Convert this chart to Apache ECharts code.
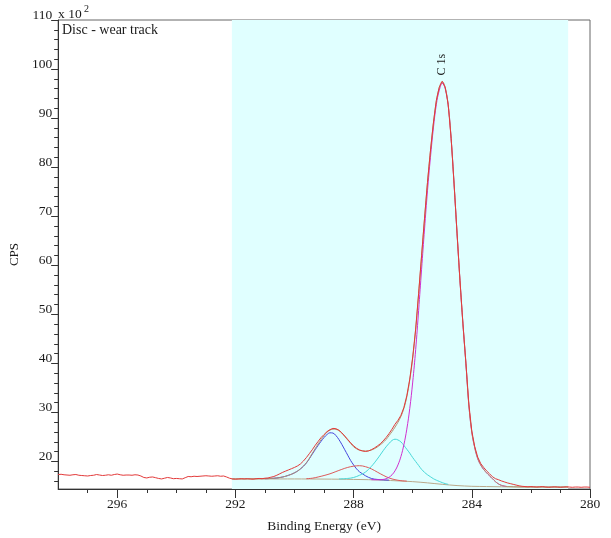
<!DOCTYPE html>
<html>
<head>
<meta charset="utf-8">
<script src="https://cdn.jsdelivr.net/npm/echarts@6/dist/echarts.min.js"></script>
<style>
  html, body { margin: 0; padding: 0; background: #ffffff; }
  #chart { width: 611px; height: 538px; }
</style>
</head>
<body>
<div id="chart"></div>
<script>
// C 1s region, disc wear track. Intensities in CPS x 10^2.
const FONT = '"Liberation Serif", "Times New Roman", serif';

// Axis ticks
const energyTicks = [280, 284, 288, 292, 296];
const energyMinorTicks = [281, 282, 283, 285, 286, 287, 289, 290, 291, 293, 294, 295, 297];
const cpsTicks = [20, 30, 40, 50, 60, 70, 80, 90, 100, 110];
const cpsMinorTicks = [16, 18, 22, 24, 26, 28, 32, 34, 36, 38, 42, 44, 46, 48, 52, 54, 56, 58,
  62, 64, 66, 68, 72, 74, 76, 78, 82, 84, 86, 88, 92, 94, 96, 98, 102, 104, 106, 108];

// Fitted binding-energy window (eV)
const fitWindow = [292.12, 280.74];

// Measured spectrum: 298.0 eV down to 280.0 eV in 0.1 eV steps
const rawStart = 298.0;
const rawStep = 0.1;
const rawCps = [
  17.35, 17.4, 17.3, 17.25, 17.2, 17.3, 17.35, 17.2, 17.15, 17.1,
  17.05, 17.15, 17.2, 17.35, 17.25, 17.15, 17.2, 17.3, 17.2, 17.35,
  17.45, 17.3, 17.2, 17.25, 17.25, 17.2, 17.3, 17.25, 17.05, 16.75,
  16.65, 16.8, 16.85, 16.7, 16.55, 16.45, 16.6, 16.75, 16.65, 16.5,
  16.55, 16.5, 16.45, 16.7, 16.95, 16.9, 17.0, 16.95, 17.0, 17.05,
  17.1, 17.05, 17.0, 17.05, 17.1, 17.0, 17.05, 16.85, 16.6, 16.45,
  16.4, 16.45, 16.5, 16.45, 16.5, 16.45, 16.4, 16.5, 16.55, 16.5,
  16.6, 16.65, 16.8, 16.95, 17.2, 17.5, 17.8, 18.05, 18.3, 18.55,
  18.8, 19.1, 19.5, 20.1, 20.8, 21.6, 22.4, 23.3, 24.1, 24.9,
  25.5, 26.1, 26.5, 26.75, 26.7, 26.4, 25.85, 25.2, 24.5, 23.8,
  23.2, 22.7, 22.35, 22.15, 22.05, 22.15, 22.4, 22.75, 23.15, 23.6,
  24.2, 24.9, 25.7, 26.6, 27.6, 28.4, 29.4, 31.0, 33.4, 36.8,
  41.3, 47.0, 54.3, 62.0, 69.6, 76.9, 83.3, 89.0, 93.6, 96.3,
  97.5, 96.3, 92.8, 85.9, 76.6, 66.6, 56.9, 48.1, 40.1, 31.7,
  26.2, 23.0, 20.9, 19.6, 18.8, 18.1, 17.5, 16.9, 16.5, 16.3,
  16.05, 15.85, 15.65, 15.5, 15.35, 15.2, 15.05, 14.95, 14.9, 14.85,
  14.9, 14.85, 14.8, 14.85, 14.9, 14.8, 14.75, 14.8, 14.85, 14.8,
  14.75, 14.8, 14.85, 14.8, 14.75, 14.8, 14.8, 14.75, 14.8, 14.8,
  14.75
];

// Shirley background [eV, CPS]
const backgroundCurve = [
  [292.12, 16.45], [291.0, 16.45], [290.0, 16.45], [289.0, 16.42], [288.5, 16.4],
  [288.0, 16.35], [287.5, 16.3], [287.0, 16.2], [286.5, 16.05], [286.0, 15.9],
  [285.5, 15.65], [285.0, 15.35], [284.5, 15.1], [284.0, 14.95], [283.5, 14.9],
  [283.0, 14.85], [282.0, 14.8], [280.74, 14.8]
];

// Component at ~288.8 eV
const blueComponent = [
  [291.0, 16.5], [290.8, 16.55], [290.6, 16.65], [290.4, 16.85], [290.2, 17.2],
  [290.0, 17.7], [289.8, 18.5], [289.6, 19.7], [289.4, 21.5], [289.2, 23.3],
  [289.0, 24.9], [288.9, 25.5], [288.8, 25.85], [288.7, 25.8], [288.6, 25.3],
  [288.5, 24.5], [288.4, 23.5], [288.3, 22.4], [288.2, 21.3], [288.1, 20.2],
  [288.0, 19.3], [287.9, 18.5], [287.8, 17.9], [287.7, 17.5], [287.6, 17.1],
  [287.4, 16.55], [287.2, 16.35], [287.0, 16.25], [286.8, 16.2]
];

// Component at ~287.8 eV
const redComponent = [
  [289.6, 16.5], [289.4, 16.6], [289.2, 16.85], [289.0, 17.15], [288.8, 17.5],
  [288.6, 17.95], [288.4, 18.4], [288.2, 18.8], [288.0, 19.05], [287.8, 19.15],
  [287.6, 18.95], [287.4, 18.5], [287.2, 17.85], [287.0, 17.2], [286.8, 16.65],
  [286.6, 16.3], [286.4, 16.1], [286.2, 16.0]
];

// Component at ~286.6 eV
const cyanComponent = [
  [288.5, 16.45], [288.2, 16.55], [288.0, 16.75], [287.8, 17.2], [287.6, 17.85],
  [287.4, 19.0], [287.2, 20.5], [287.0, 22.2], [286.9, 23.0], [286.8, 23.7],
  [286.7, 24.3], [286.6, 24.55], [286.5, 24.4], [286.4, 24.0], [286.3, 23.3],
  [286.2, 22.5], [286.1, 21.7], [286.0, 20.8], [285.9, 20.0], [285.8, 19.2],
  [285.7, 18.4], [285.6, 17.8], [285.5, 17.3], [285.4, 16.9], [285.3, 16.5],
  [285.2, 16.2], [285.1, 15.95], [285.0, 15.7], [284.9, 15.5], [284.8, 15.35]
];

// Main C-C component at ~285.0 eV
const magentaComponent = [
  [287.4, 16.3], [287.2, 16.28], [287.0, 16.35], [286.9, 16.5], [286.8, 16.8],
  [286.7, 17.3], [286.6, 18.1], [286.5, 19.3], [286.4, 21.0], [286.3, 23.4],
  [286.2, 26.6], [286.1, 30.8], [286.0, 36.2], [285.9, 42.8], [285.8, 50.8],
  [285.7, 59.2], [285.6, 67.4], [285.5, 75.2], [285.4, 82.0], [285.3, 88.0],
  [285.2, 92.8], [285.1, 95.7], [285.0, 97.1], [284.9, 96.0], [284.8, 92.6],
  [284.7, 85.8], [284.6, 76.5], [284.5, 66.5], [284.4, 56.8], [284.3, 48.0],
  [284.2, 40.0], [284.1, 31.5], [284.0, 26.0], [283.9, 22.8], [283.8, 20.6],
  [283.7, 19.3], [283.6, 18.4], [283.5, 17.7], [283.4, 17.1], [283.3, 16.5],
  [283.2, 15.9], [283.1, 15.45], [283.0, 15.15], [282.9, 15.0], [282.8, 14.9]
];

// Fit envelope
const envelopeCurve = [
  [292.12, 16.45], [291.0, 16.5], [290.8, 16.55], [290.6, 16.65], [290.4, 16.85],
  [290.2, 17.2], [290.0, 17.7], [289.8, 18.5], [289.6, 19.75], [289.4, 21.65],
  [289.2, 23.6], [289.0, 25.3], [288.9, 26.0], [288.8, 26.4], [288.7, 26.6],
  [288.6, 26.55], [288.5, 26.3], [288.4, 25.8], [288.3, 25.1], [288.2, 24.4],
  [288.1, 23.7], [288.0, 23.0], [287.9, 22.6], [287.8, 22.3], [287.7, 22.2],
  [287.6, 22.15], [287.5, 22.2], [287.4, 22.35], [287.3, 22.6], [287.2, 22.95],
  [287.1, 23.4], [287.0, 23.9], [286.9, 24.5], [286.8, 25.3], [286.7, 26.1],
  [286.6, 27.0], [286.5, 28.0], [286.4, 29.2], [286.3, 30.8], [286.2, 33.2],
  [286.1, 36.6], [286.0, 41.1], [285.9, 46.95], [285.8, 54.2], [285.7, 61.85],
  [285.6, 69.5], [285.5, 76.85], [285.4, 83.3], [285.3, 88.95], [285.2, 93.5],
  [285.1, 96.25], [285.0, 97.45], [284.9, 96.2], [284.8, 92.7], [284.7, 85.85],
  [284.6, 76.55], [284.5, 66.55], [284.4, 56.8], [284.3, 48.0], [284.2, 40.0],
  [284.1, 31.5], [284.0, 26.0], [283.9, 22.8], [283.8, 20.6], [283.7, 19.3],
  [283.6, 18.4], [283.5, 17.7], [283.4, 17.1], [283.3, 16.5], [283.2, 15.9],
  [283.1, 15.45], [283.0, 15.15], [282.9, 15.0], [282.8, 14.9], [282.0, 14.8],
  [280.74, 14.8]
];

// Peak annotation
const peakName = 'C 1s';
const peakTop = [285.02, 97.45];

const rawSeries = rawCps.map((v, i) => [+(rawStart - i * rawStep).toFixed(1), v]);

const chart = echarts.init(document.getElementById('chart'), null, { renderer: 'canvas' });

const axisColor = '#333';
const textStyle = { fontFamily: FONT, fontSize: 13, color: '#1a1a1a' };

function curve(name, data, color, z, smooth) {
  return {
    name, type: 'line', data, z,
    showSymbol: false, symbol: 'none',
    smooth: smooth, animation: false, silent: true,
    lineStyle: { color, width: 1 }
  };
}

chart.setOption({
  animation: false,
  backgroundColor: '#ffffff',
  grid: {
    left: 58, right: 21, top: 20, bottom: 45,
    show: true, borderColor: '#666', borderWidth: 1, backgroundColor: 'transparent'
  },
  xAxis: [
    {
      type: 'value', min: 280, max: 298, inverse: true, interval: 4,
      axisLine: { lineStyle: { color: axisColor, width: 1 } },
      axisTick: { customValues: energyTicks, length: 9, lineStyle: { color: axisColor } },
      axisLabel: Object.assign({ customValues: energyTicks, margin: 8 }, textStyle, { fontSize: 13.5 }),
      splitLine: { show: false },
      name: 'Binding Energy (eV)', nameLocation: 'middle', nameGap: 30,
      nameTextStyle: Object.assign({}, textStyle, { fontSize: 13.5 })
    },
    {
      type: 'value', min: 280, max: 298, inverse: true, position: 'bottom', interval: 1,
      axisLine: { show: false },
      axisTick: { customValues: energyMinorTicks, length: 4, lineStyle: { color: axisColor } },
      axisLabel: { show: false },
      splitLine: { show: false }
    }
  ],
  yAxis: [
    {
      type: 'value', min: 14.4, max: 110,
      axisLine: { show: true, lineStyle: { color: axisColor, width: 1 } },
      axisTick: { show: true, customValues: cpsTicks, length: 7, lineStyle: { color: axisColor } },
      axisLabel: Object.assign({ customValues: cpsTicks, margin: 6, verticalAlign: 'bottom', lineHeight: 10 }, textStyle, { fontSize: 13.5 }),
      splitLine: { show: false },
      name: 'CPS', nameLocation: 'middle', nameGap: 36,
      nameTextStyle: textStyle
    },
    {
      type: 'value', min: 14.4, max: 110, position: 'left',
      axisLine: { show: false },
      axisTick: { show: true, customValues: cpsMinorTicks, length: 4, lineStyle: { color: axisColor } },
      axisLabel: { show: false },
      splitLine: { show: false }
    }
  ],
  series: [
    {
      name: 'fit window', type: 'line', data: [], z: 0, silent: true,
      markArea: {
        silent: true,
        itemStyle: { color: '#E0FFFF' },
        data: [[{ xAxis: fitWindow[0] }, { xAxis: fitWindow[1] }]]
      }
    },
    curve('background', backgroundCurve, '#B9A98B', 2, 0.3),
    curve('C 1s 288.8', blueComponent, '#4646DD', 3, 0.4),
    curve('C 1s 287.8', redComponent, '#DD5A5A', 3, 0.4),
    curve('C 1s 286.6', cyanComponent, '#46D8D8', 3, 0.4),
    curve('C 1s 285.0', magentaComponent, '#D030D0', 3, 0.4),
    curve('envelope', envelopeCurve, '#B3916F', 4, 0.4),
    curve('spectrum', rawSeries, '#E23A3A', 5, false)
  ]
});

const p = chart.convertToPixel({ xAxisIndex: 0, yAxisIndex: 0 }, peakTop);

chart.setOption({
  graphic: [
    {
      type: 'text', silent: true, z: 100,
      style: { x: 58, y: 21, text: 'x 10', font: '13.5px ' + FONT, fill: '#1a1a1a', verticalAlign: 'bottom' }
    },
    {
      type: 'text', silent: true, z: 100,
      style: { x: 84, y: 4, text: '2', font: '10px ' + FONT, fill: '#1a1a1a', verticalAlign: 'top' }
    },
    {
      type: 'text', silent: true, z: 100,
      style: { x: 62, y: 23, text: 'Disc - wear track', font: '14px ' + FONT, fill: '#1a1a1a', verticalAlign: 'top' }
    },
    {
      type: 'text', silent: true, z: 100,
      x: p[0], y: p[1] - 6, rotation: Math.PI / 2,
      style: { x: 0, y: 0, text: peakName, font: '12px ' + FONT, fill: '#1a1a1a', align: 'left', verticalAlign: 'middle' }
    }
  ]
});
</script>
</body>
</html>
